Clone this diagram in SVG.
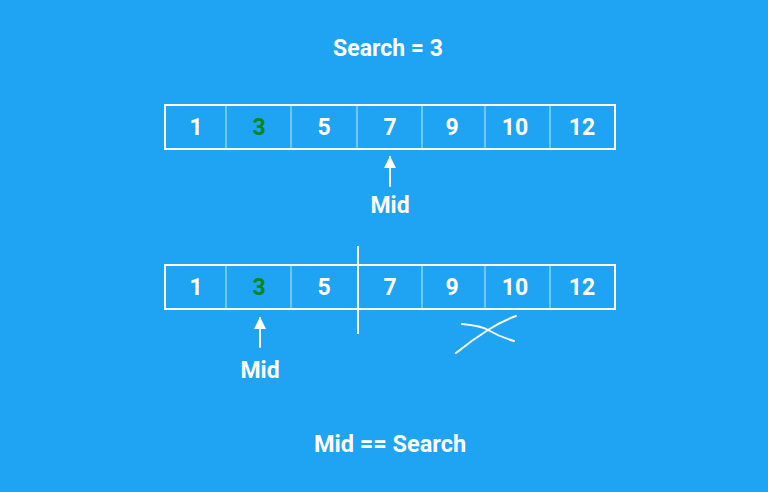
<svg xmlns="http://www.w3.org/2000/svg" width="768" height="492" viewBox="0 0 768 492">
<defs>
<style>
.t{font-family:Roboto,"Liberation Sans",sans-serif;font-weight:bold;fill:#ffffff;text-anchor:middle}
.n{font-size:23px}
.g{fill:#0b870b}
.box{fill:none;stroke:#ffffff;stroke-width:2}
.div{stroke:#ffffff;stroke-opacity:0.75;stroke-width:1}
.ln{stroke:#ffffff;stroke-width:2;fill:none;stroke-linecap:round}
</style>
<marker id="ah" viewBox="0 0 12 12" refX="11" refY="6" markerWidth="12" markerHeight="12" markerUnits="userSpaceOnUse" orient="auto">
<path d="M0,0 L12,6 L0,12 Z" fill="#ffffff"/>
</marker>
</defs>
<rect width="768" height="492" fill="#1fa3f3"/>
<text id="title" class="t" x="388" y="56" font-size="23">Search = 3</text>

<g id="array1">
<rect class="box" x="165" y="105" width="450" height="44"/>
<line class="div" x1="226" y1="105" x2="226" y2="149"/>
<line class="div" x1="291" y1="105" x2="291" y2="149"/>
<line class="div" x1="357" y1="105" x2="357" y2="149"/>
<line class="div" x1="422" y1="105" x2="422" y2="149"/>
<line class="div" x1="485" y1="105" x2="485" y2="149"/>
<line class="div" x1="550" y1="105" x2="550" y2="149"/>
<text class="t n" x="196" y="135">1</text>
<text class="t n g" x="259" y="135">3</text>
<text class="t n" x="324" y="135">5</text>
<text class="t n" x="390" y="135">7</text>
<text class="t n" x="452" y="135">9</text>
<text class="t n" x="515" y="135">10</text>
<text class="t n" x="582" y="135">12</text>
</g>

<g id="array2">
<rect class="box" x="165" y="265" width="450" height="44"/>
<line class="div" x1="226" y1="265" x2="226" y2="309"/>
<line class="div" x1="291" y1="265" x2="291" y2="309"/>
<line class="div" x1="422" y1="265" x2="422" y2="309"/>
<line class="div" x1="485" y1="265" x2="485" y2="309"/>
<line class="div" x1="550" y1="265" x2="550" y2="309"/>
<text class="t n" x="196" y="295">1</text>
<text class="t n g" x="259" y="295">3</text>
<text class="t n" x="324" y="295">5</text>
<text class="t n" x="390" y="295">7</text>
<text class="t n" x="452" y="295">9</text>
<text class="t n" x="515" y="295">10</text>
<text class="t n" x="582" y="295">12</text>
</g>

<g id="mid1"><text class="t n" x="390" y="213">Mid</text></g>
<g id="mid2"><text class="t n" x="260" y="378">Mid</text></g>

<g id="connectors">
<line class="ln" x1="390" y1="186" x2="390" y2="157" marker-end="url(#ah)"/>
<line class="ln" x1="260" y1="347" x2="260" y2="318" marker-end="url(#ah)"/>
<line x1="358" y1="246" x2="358" y2="334" stroke="#ffffff" stroke-width="2"/>
<path class="ln" d="M462,324 Q482,326 488,330 Q500,337 514,341"/>
<path class="ln" d="M456,353 Q472,340 488,330 Q502,321 516,316"/>
</g>

<text id="result" class="t" x="390" y="452" font-size="23.5">Mid == Search</text>
</svg>
